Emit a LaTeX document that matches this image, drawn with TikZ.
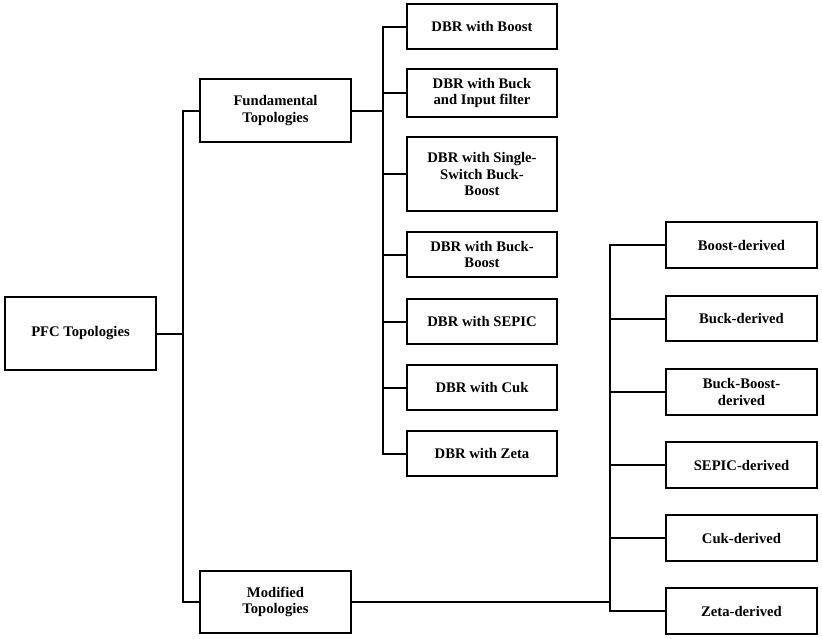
\documentclass[tikz,border=0pt]{standalone}
\usepackage{fontspec}
\setmainfont{Liberation Serif}
\begin{document}
\begin{tikzpicture}[x=0.75pt,y=-0.75pt,
  bx/.style={draw,line width=1.5pt,align=center,font=\bfseries\fontsize{11}{12.5}\selectfont,inner sep=0pt},
  ln/.style={line width=1.5pt}]
\useasboundingbox (0,0) rectangle (822,639);
\newcommand{\bxat}[6]{\node[bx,minimum width=#4*0.75pt-#2*0.75pt,minimum height=#5*0.75pt-#3*0.75pt] (#1) at ({(#2+#4)/2},{(#3+#5)/2}) {#6};}
\bxat{pfc}{5}{297}{156}{370}{PFC Topologies}
\bxat{fun}{200}{79}{351}{142}{Fundamental\\Topologies}
\bxat{mod}{200}{571}{351}{633}{Modified\\Topologies}
\bxat{a1}{407}{4}{557}{49}{DBR with Boost}
\bxat{a2}{407}{69}{557}{117}{DBR with Buck\\and Input filter}
\bxat{a3}{407}{137}{557}{211}{DBR with Single-\\Switch Buck-\\Boost}
\bxat{a4}{407}{232}{557}{277}{DBR with Buck-\\Boost}
\bxat{a5}{407}{299}{557}{344}{DBR with SEPIC}
\bxat{a6}{407}{365}{557}{410}{DBR with Cuk}
\bxat{a7}{407}{431}{557}{476}{DBR with Zeta}
\bxat{b1}{666}{222}{817}{268}{Boost-derived}
\bxat{b2}{666}{296}{817}{341}{Buck-derived}
\bxat{b3}{666}{369}{817}{415}{Buck-Boost-\\derived}
\bxat{b4}{666}{442}{817}{488}{SEPIC-derived}
\bxat{b5}{666}{515}{817}{561}{Cuk-derived}
\bxat{b6}{666}{588}{817}{634}{Zeta-derived}
\coordinate (t1) at (183,0);
\coordinate (t2) at (383,0);
\coordinate (t3) at (610,0);
\draw[ln] (pfc.east) -- (pfc.east -| t1);
\draw[ln] (fun.west) -| (mod.west -| t1) -- (mod.west);
\draw[ln] (fun.east) -- (fun.east -| t2);
\draw[ln] (a1.west) -| (a7.west -| t2) -- (a7.west);
\foreach \n in {a2,a3,a4,a5,a6} \draw[ln] (\n.west) -- (\n.west -| t2);
\draw[ln] (mod.east) -- (mod.east -| t3);
\draw[ln] (b1.west) -| (b6.west -| t3) -- (b6.west);
\foreach \n in {b2,b3,b4,b5} \draw[ln] (\n.west) -- (\n.west -| t3);
\end{tikzpicture}
\end{document}
